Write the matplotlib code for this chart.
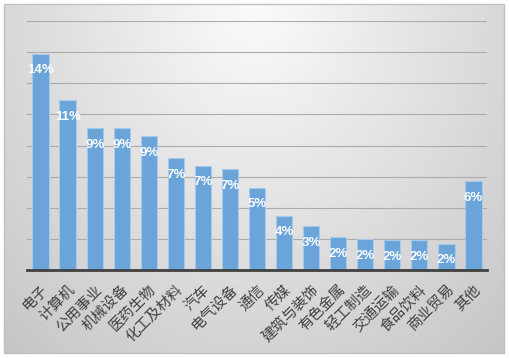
import numpy as np
import matplotlib
matplotlib.use("Agg")
import matplotlib.pyplot as plt
from matplotlib.patches import Rectangle

plt.rcParams['font.family'] = ['Noto Sans CJK SC', 'DejaVu Sans']

# 行业 / 占比 (%)
industries = ['电子', '计算机', '公用事业', '机械设备', '医药生物', '化工及材料', '汽车',
              '电气设备', '通信', '传媒', '建筑与装饰', '有色金属', '轻工制造',
              '交通运输', '食品饮料', '商业贸易', '其他']
shares = [13.9, 10.9, 9.1, 9.1, 8.6, 7.2, 6.7, 6.5, 5.3, 3.5, 2.8, 2.1, 2.0, 1.9, 1.9, 1.7, 5.7]
labels = ['14%', '11%', '9%', '9%', '9%', '7%', '7%', '7%', '5%', '4%', '3%',
          '2%', '2%', '2%', '2%', '2%', '6%']

W, H = 510, 358
fig = plt.figure(figsize=(W / 100, H / 100), dpi=100)
fig.patch.set_facecolor('white')

# 背景渐变 (图表区)
x0, y0, x1, y1 = 4, 4, 504, 353
bg = fig.add_axes([x0 / W, 1 - y1 / H, (x1 - x0) / W, (y1 - y0) / H])
yy, xx = np.mgrid[0:(y1 - y0), 0:(x1 - x0)]
d = np.sqrt(((xx - 250) / 300.0) ** 2 + ((yy + 10) / 380.0) ** 2)
v = np.clip(252 - 43 * d, 195, 252) / 255.0
bg.imshow(np.dstack([v, v, v]), aspect='auto', interpolation='bilinear')
bg.set_axis_off()
fig.patches.append(Rectangle((x0 / W, 1 - y1 / H), (x1 - x0) / W, (y1 - y0) / H,
                             transform=fig.transFigure, fill=False,
                             edgecolor='#c0c0c0', linewidth=1.0, zorder=10))

# 主图
ax = fig.add_axes([27 / W, (H - 270) / H, 460 / W, 249 / H])
ax.patch.set_alpha(0)
x = np.arange(len(industries))
bars = ax.bar(x, shares, width=0.6, color='#6aa4d9', edgecolor='#a8c9ea',
              linewidth=0.8, zorder=3)
ax.set_xlim(-0.5, len(industries) - 0.5)
ax.set_ylim(0, 16)
ax.set_yticks(np.arange(0, 17, 2))
ax.yaxis.grid(True, color='#acacac', linewidth=0.8, zorder=0)
ax.tick_params(axis='y', length=0, labelleft=False)
for s in ['top', 'right', 'left']:
    ax.spines[s].set_visible(False)
ax.spines['bottom'].set_color('#404040')
ax.spines['bottom'].set_linewidth(2.0)
ax.spines['bottom'].set_zorder(4)

ax.set_xticks(x)
ax.set_xticklabels(industries, rotation=45, ha='right', rotation_mode='anchor',
                   fontsize=10.5, color='#404040')
ax.tick_params(axis='x', length=0, pad=9)

for b, lab in zip(bars, labels):
    ax.annotate(lab, (b.get_x() + b.get_width() / 2, b.get_height()),
                xytext=(0, -12), textcoords='offset points',
                ha='center', va='center', color='white', fontweight='bold',
                fontsize=9.5, family=['Liberation Sans', 'DejaVu Sans'], zorder=5)

fig.savefig('out.png', dpi=100)
